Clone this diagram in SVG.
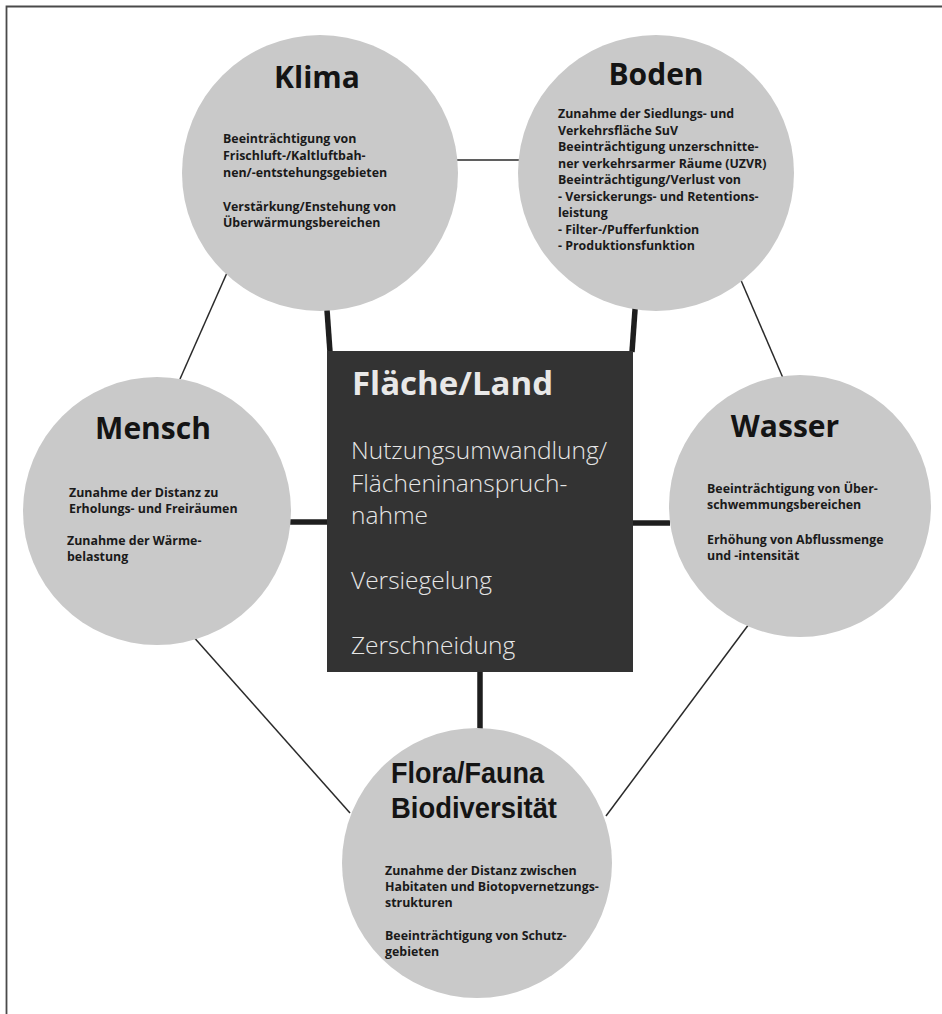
<svg xmlns="http://www.w3.org/2000/svg" width="942" height="1014" viewBox="0 0 942 1014">
<style>
.circle{fill:#c9c9c9}
.title{font-family:"Open Sans","Liberation Sans",sans-serif;font-weight:700;font-size:30px;fill:#141414}
.ftitle{font-family:"Liberation Sans",Arial,sans-serif;font-weight:700;font-size:30px;fill:#141414}
.body{font-family:"Open Sans","Liberation Sans",sans-serif;font-weight:700;font-size:12.4px;fill:#1a1a1a}
.thin{stroke:#2a2a2a;stroke-width:1.5;fill:none}
.thick{stroke:#1e1e1e;stroke-width:5.5;fill:none}
.btitle{font-family:"Open Sans","Liberation Sans",sans-serif;font-weight:700;font-size:33px;fill:#e8e8e8}
.bbody{font-family:"Open Sans","Liberation Sans",sans-serif;font-weight:300;font-size:24.5px;fill:#e6e6e6}
</style>
<rect width="942" height="1014" fill="#ffffff"/>
<path d="M6.5,1014 V6.5 H942" stroke="#4a4a4a" stroke-width="1.8" fill="none"/>
<g id="connectors">
<line class="thin" x1="456" y1="160" x2="521" y2="160"/>
<line class="thin" x1="230" y1="266" x2="180" y2="379"/>
<line class="thin" x1="737" y1="271" x2="783" y2="378"/>
<line class="thin" x1="191" y1="634" x2="350" y2="813"/>
<line class="thin" x1="749" y1="624" x2="606" y2="816"/>
<line class="thick" x1="326" y1="296" x2="330" y2="352"/>
<line class="thick" x1="636" y1="296" x2="632" y2="352"/>
<line class="thick" x1="290" y1="522" x2="328" y2="522"/>
<line class="thick" x1="632" y1="523" x2="670" y2="523"/>
<line class="thick" x1="480" y1="671" x2="480" y2="734"/>
</g>
<g id="klima">
<circle class="circle" cx="320" cy="173" r="138"/>
<text class="title" x="317" y="88" text-anchor="middle">Klima</text>
<text class="body" x="223" y="143">Beeinträchtigung von</text>
<text class="body" x="223" y="160">Frischluft-/Kaltluftbah-</text>
<text class="body" x="223" y="177">nen/-entstehungsgebieten</text>
<text class="body" x="223" y="211">Verstärkung/Enstehung von</text>
<text class="body" x="223" y="227">Überwärmungsbereichen</text>
</g>
<g id="boden">
<circle class="circle" cx="656" cy="173" r="138"/>
<text class="title" x="656" y="85" text-anchor="middle">Boden</text>
<text class="body" x="558" y="118">Zunahme der Siedlungs- und</text>
<text class="body" x="558" y="134.5">Verkehrsfläche SuV</text>
<text class="body" x="558" y="151">Beeinträchtigung unzerschnitte-</text>
<text class="body" x="558" y="167.5">ner verkehrsarmer Räume (UZVR)</text>
<text class="body" x="558" y="184">Beeinträchtigung/Verlust von</text>
<text class="body" x="558" y="200.5">- Versickerungs- und Retentions-</text>
<text class="body" x="558" y="217">leistung</text>
<text class="body" x="558" y="233.5">- Filter-/Pufferfunktion</text>
<text class="body" x="558" y="250">- Produktionsfunktion</text>
</g>
<g id="mensch">
<circle class="circle" cx="157" cy="511" r="134"/>
<text class="title" x="153" y="439" text-anchor="middle">Mensch</text>
<text class="body" x="69" y="497">Zunahme der Distanz zu</text>
<text class="body" x="69" y="513">Erholungs- und Freiräumen</text>
<text class="body" x="67" y="545">Zunahme der Wärme-</text>
<text class="body" x="67" y="561">belastung</text>
</g>
<g id="wasser">
<circle class="circle" cx="800" cy="506" r="131"/>
<text class="title" x="785" y="437" text-anchor="middle">Wasser</text>
<text class="body" x="707" y="493">Beeinträchtigung von Über-</text>
<text class="body" x="707" y="509">schwemmungsbereichen</text>
<text class="body" x="707" y="544">Erhöhung von Abflussmenge</text>
<text class="body" x="707" y="560">und -intensität</text>
</g>
<g id="flora">
<circle class="circle" cx="477" cy="863" r="135"/>
<text class="ftitle" x="391" y="783" textLength="153" lengthAdjust="spacingAndGlyphs">Flora/Fauna</text>
<text class="ftitle" x="391" y="817.5" textLength="166" lengthAdjust="spacingAndGlyphs">Biodiversität</text>
<text class="body" x="385" y="875">Zunahme der Distanz zwischen</text>
<text class="body" x="385" y="891">Habitaten und Biotopvernetzungs-</text>
<text class="body" x="385" y="907">strukturen</text>
<text class="body" x="385" y="940">Beeinträchtigung von Schutz-</text>
<text class="body" x="385" y="956">gebieten</text>
</g>
<g id="flaeche">
<rect x="327" y="351" width="306" height="321" fill="#333333"/>
<text class="btitle" x="352" y="395">Fläche/Land</text>
<text class="bbody" x="351" y="459">Nutzungsumwandlung/</text>
<text class="bbody" x="351" y="492">Flächeninanspruch-</text>
<text class="bbody" x="351" y="524">nahme</text>
<text class="bbody" x="351" y="589">Versiegelung</text>
<text class="bbody" x="351" y="654">Zerschneidung</text>
</g>
</svg>
